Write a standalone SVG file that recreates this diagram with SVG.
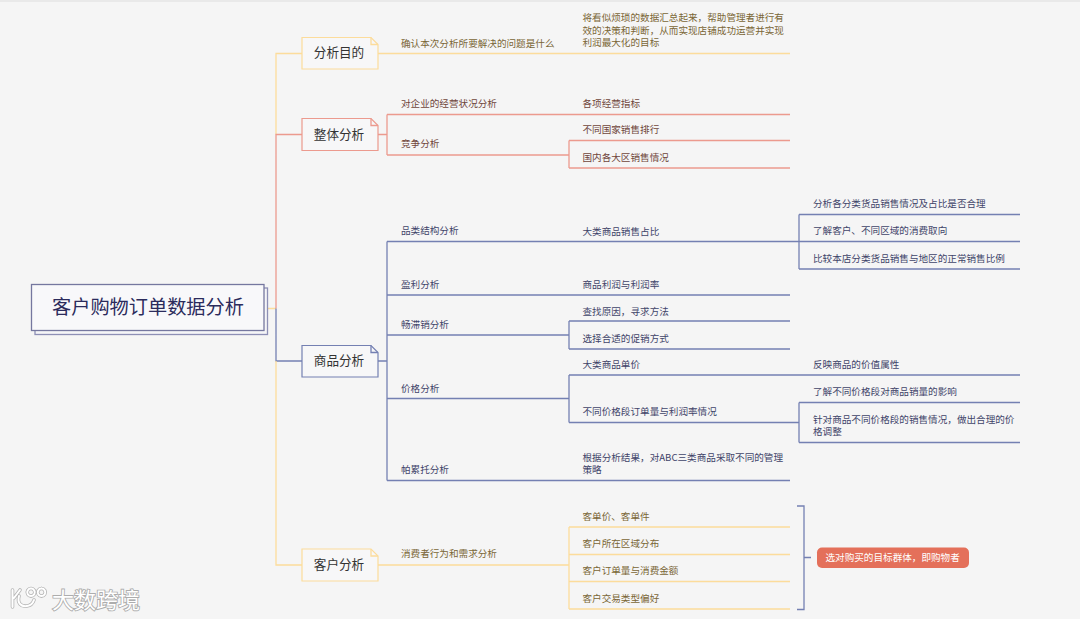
<svg xmlns="http://www.w3.org/2000/svg" width="1080" height="619" viewBox="0 0 1080 619">
<defs>
<path id="logo" d="M12.500 590V607M20 590L14 598M19 596C17 603 21 607 27 606C31 605.500 33 603 34 600M31 588.500a3.800 3.800 0 1 0 .01 0M41.500 588.500a3.800 3.800 0 1 0 .01 0"/>
</defs>
<style>
text{font-family:"Noto Sans CJK SC","Noto Sans",sans-serif}
.l{font-size:9.6px}
.y{fill:#7a6636}.r{fill:#6f453b}.b{fill:#3f4469}
.c{fill:none;stroke-width:1.3;stroke-linejoin:miter}
.cy{stroke:#fcdc9b}.cr{stroke:#ec9a8e}.cb{stroke:#7480b2}
.box{stroke-width:1.2}
.t{font-size:12.6px;fill:#333;text-anchor:middle}
</style>
<rect width="1080" height="619" fill="#f5f5f5"/>
<rect width="1080" height="2" fill="#e9e9e9"/>
<g id="connectors">
<path class="c cy" d="M264 308.500H276M276 134.500V53.500H302M378 53.500H790"/>
<path class="c cr" d="M276 308.500V134.500H302M378 134.500H387M387 114.500V155M387 114.500H790M387 155H569M569 140.500V168M569 140.500H790M569 168H790"/>
<path class="c cb" d="M276 308.500V361H302M378 361H387M387 241.500V480.500M387 241.500H1020M799 214.500V269M799 214.500H1020M799 269H1020M387 295H790M387 335H569M569 321V349M569 321H790M569 349H790M387 398.500H569M569 375V422.500M569 375H1020M569 422.500H799M799 402.500V442.500M799 402.500H1020M799 442.500H1020M387 480.500H790"/>
<path class="c cy" d="M276 361V565H302M378 565H569M569 527V609M569 527H790M569 554.500H790M569 581.500H790M569 609H790"/>
<path class="c cb" d="M797 506H804V609.500H797M804 557.500H811"/>
</g>
<g id="root">
<rect x="35" y="288" width="232.500" height="46.500" fill="#f5f5f7" stroke="#8d8fb5" stroke-width="1.300"/>
<rect x="31.500" y="284.500" width="232.500" height="46" fill="#f8f8fa" stroke="#75779f" stroke-width="1.300"/>
<text x="148" y="314" font-size="19.200" fill="#2b2b5c" text-anchor="middle">客户购物订单数据分析</text>
</g>
<g id="node-goal">
<path class="box cy" d="M302 37.500H371L378 44.500V69H302Z" fill="#f7f7f8"/>
<path class="c cy" d="M371 37.500V44.500H378"/>
<text class="t" x="339" y="57">分析目的</text>
</g>
<g id="node-overall">
<path class="box cr" d="M302 118.500H371L378 125.500V150.500H302Z" fill="#f7f7f8"/>
<path class="c cr" d="M371 118.500V125.500H378"/>
<text class="t" x="339" y="138.500">整体分析</text>
</g>
<g id="node-product">
<path class="box cb" d="M302 345.500H371L378 352.500V377H302Z" fill="#f7f7f8"/>
<path class="c cb" d="M371 345.500V352.500H378"/>
<text class="t" x="339" y="365">商品分析</text>
</g>
<g id="node-customer">
<path class="box cy" d="M302 549H371L378 556V581H302Z" fill="#f7f7f8"/>
<path class="c cy" d="M371 549V556H378"/>
<text class="t" x="339" y="569">客户分析</text>
</g>
<g id="goal-items">
<text class="l y" x="401" y="46.500">确认本次分析所要解决的问题是什么</text>
<text class="l y" x="582.500" y="21.200">将看似烦琐的数据汇总起来，帮助管理者进行有</text>
<text class="l y" x="582.500" y="33.700">效的决策和判断，从而实现店铺成功运营并实现</text>
<text class="l y" x="582.500" y="46.200">利润最大化的目标</text>
</g>
<g id="overall-items">
<text class="l r" x="401" y="107">对企业的经营状况分析</text>
<text class="l r" x="401" y="147">竞争分析</text>
<text class="l r" x="582.500" y="107">各项经营指标</text>
<text class="l r" x="582.500" y="133.200">不同国家销售排行</text>
<text class="l r" x="582.500" y="160.800">国内各大区销售情况</text>
</g>
<g id="product-items">
<text class="l b" x="401" y="234">品类结构分析</text>
<text class="l b" x="401" y="288">盈利分析</text>
<text class="l b" x="401" y="327.500">畅滞销分析</text>
<text class="l b" x="401" y="391.500">价格分析</text>
<text class="l b" x="401" y="473.200">帕累托分析</text>
<text class="l b" x="582.500" y="234.500">大类商品销售占比</text>
<text class="l b" x="582.500" y="288">商品利润与利润率</text>
<text class="l b" x="582.500" y="314.500">查找原因，寻求方法</text>
<text class="l b" x="582.500" y="341.500">选择合适的促销方式</text>
<text class="l b" x="582.500" y="367.500">大类商品单价</text>
<text class="l b" x="582.500" y="414.800">不同价格段订单量与利润率情况</text>
<text class="l b" x="582.500" y="460.800">根据分析结果，对ABC三类商品采取不同的管理</text>
<text class="l b" x="582.500" y="473.300">策略</text>
<text class="l b" x="813" y="206.800">分析各分类货品销售情况及占比是否合理</text>
<text class="l b" x="813" y="234.200">了解客户、不同区域的消费取向</text>
<text class="l b" x="813" y="261.800">比较本店分类货品销售与地区的正常销售比例</text>
<text class="l b" x="813" y="367.500">反映商品的价值属性</text>
<text class="l b" x="813" y="395.200">了解不同价格段对商品销量的影响</text>
<text class="l b" x="813" y="422.500">针对商品不同价格段的销售情况，做出合理的价</text>
<text class="l b" x="813" y="435">格调整</text>
</g>
<g id="customer-items">
<text class="l y" x="401" y="557.200">消费者行为和需求分析</text>
<text class="l y" x="582.500" y="519.500">客单价、客单件</text>
<text class="l y" x="582.500" y="546.800">客户所在区域分布</text>
<text class="l y" x="582.500" y="574.200">客户订单量与消费金额</text>
<text class="l y" x="582.500" y="601.800">客户交易类型偏好</text>
</g>
<g id="summary">
<rect x="817" y="547.500" width="152" height="20.500" rx="5" fill="#e4705a"/>
<text class="l" x="825.500" y="561.200" fill="#fff">选对购买的目标群体，即购物者</text>
</g>
<g id="watermark">
<use href="#logo" fill="none" stroke="#b5b5b5" stroke-width="3.600" stroke-linecap="round"/>
<use href="#logo" fill="none" stroke="#fff" stroke-width="2" stroke-linecap="round"/>
<text x="52" y="607.500" font-size="22" fill="#fff" stroke="#adadad" stroke-width="1.800" paint-order="stroke">大数跨境</text>
</g>
</svg>
